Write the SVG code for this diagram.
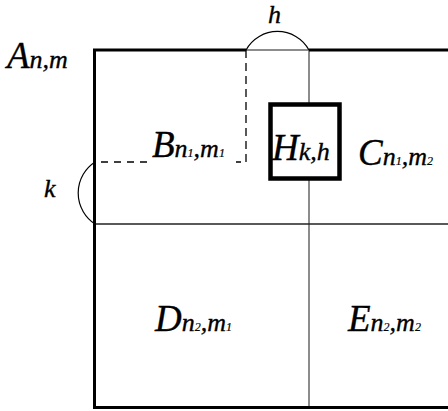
<svg xmlns="http://www.w3.org/2000/svg" width="448" height="411" viewBox="0 0 448 411">
<style>
text{font-family:'Liberation Serif','Times New Roman',serif;font-style:italic;fill:#000;stroke:#000;stroke-width:0.35}
.big{font-size:37px}
.sub{font-size:26px}
.dig{font-size:12px;stroke-width:0.2}
.thick{stroke:#000;stroke-width:3;fill:none}
.thin{stroke:#666;stroke-width:1.5;fill:none}
.mid{stroke:#222;stroke-width:1.3;fill:none}
.dash{stroke:#000;stroke-width:1.3;fill:none;stroke-dasharray:8 5}
.arc{stroke:#000;stroke-width:1.2;fill:none}
</style>
<rect width="448" height="411" fill="#fff"/>
<g id="connectors">
<path class="thin" d="M309,50 V407"/>
<path class="mid" d="M95,224 H448"/>
<path class="thin" d="M246,50 H309"/>
<path class="thick" d="M448,50 H309 M246,50 H94.5 V407.5 H448"/>
<path class="dash" d="M246,50 V162 H236"/>
<path class="dash" d="M95,162 H150" style="stroke-dasharray:7 6" stroke-dashoffset="-6"/>
<path class="arc" d="M246,50 A36 36 0 0 1 309,50"/>
<path class="arc" d="M95,162 A37 37 0 0 0 95,224"/>
</g>
<g id="A"><text x="7" y="68"><tspan class="big">A</tspan><tspan class="sub">n,m</tspan></text></g>
<g id="B"><text x="152" y="157"><tspan class="big">B</tspan><tspan class="sub">n</tspan><tspan class="dig">1</tspan><tspan class="sub">,m</tspan><tspan class="dig">1</tspan></text></g>
<g id="H">
<rect x="270.5" y="104.5" width="69" height="74" fill="#fff" stroke="#000" stroke-width="4.5"/>
<text x="272" y="160"><tspan class="big">H</tspan><tspan class="sub">k,h</tspan></text>
</g>
<g id="C"><text x="358" y="165"><tspan class="big">C</tspan><tspan class="sub">n</tspan><tspan class="dig">1</tspan><tspan class="sub">,m</tspan><tspan class="dig">2</tspan></text></g>
<g id="D"><text x="155" y="331"><tspan class="big">D</tspan><tspan class="sub">n</tspan><tspan class="dig">2</tspan><tspan class="sub">,m</tspan><tspan class="dig">1</tspan></text></g>
<g id="E"><text x="348" y="331"><tspan class="big">E</tspan><tspan class="sub">n</tspan><tspan class="dig">2</tspan><tspan class="sub">,m</tspan><tspan class="dig">2</tspan></text></g>
<g id="hlabel"><text class="sub" x="268" y="23">h</text></g>
<g id="klabel"><text class="sub" x="44" y="197">k</text></g>
</svg>
